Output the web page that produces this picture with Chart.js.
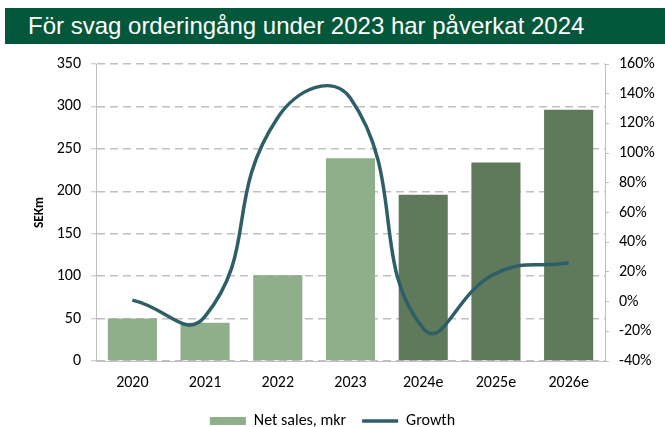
<!DOCTYPE html>
<html>
<head>
<meta charset="utf-8">
<script src="https://cdn.jsdelivr.net/npm/chart.js@4"></script>
<style>
  html, body { margin: 0; padding: 0; background: #fff; }
  #wrap { position: relative; width: 665px; height: 427px; }
  #title {
    position: absolute; left: 5px; top: 8px; width: 660px; height: 36px;
    background: #03573a; color: #fff;
    font-family: 'Liberation Sans Narrow', 'Liberation Sans', Arial, sans-serif;
    font-size: 24px; line-height: 36px; padding-left: 23px; box-sizing: border-box;
  }
  canvas { position: absolute; left: 0; top: 0; }
</style>
</head>
<body>
<div id="wrap">
  <canvas id="chart" width="665" height="427"></canvas>
  <div id="title">För svag orderingång under 2023 har påverkat 2024</div>
</div>
<script>
const years = ['2020', '2021', '2022', '2023', '2024e', '2025e', '2026e'];
const netSales = [50, 45, 101, 239, 196, 234, 296];
const growth = [1, -10, 124, 137, -18, 19, 26];
const barColors = ['#8fae8a', '#8fae8a', '#8fae8a', '#8fae8a', '#5e7a5a', '#5e7a5a', '#5e7a5a'];

const tickFont = { family: 'Carlito, Lato, sans-serif', size: 16 };
const gridGrey = '#c0c0c0';

const ctx = document.getElementById('chart').getContext('2d');
new Chart(ctx, {
  data: {
    labels: years,
    datasets: [
      {
        type: 'line',
        label: 'Growth',
        data: growth,
        yAxisID: 'y1',
        borderColor: '#2e5f69',
        backgroundColor: '#2e5f69',
        borderWidth: 3.5,
        pointRadius: 0,
        tension: 0.5,
        order: 0,
      },
      {
        type: 'bar',
        label: 'Net sales, mkr',
        data: netSales,
        yAxisID: 'y',
        backgroundColor: barColors,
        categoryPercentage: 1,
        barPercentage: 0.675,
        order: 1,
      },
    ],
  },
  options: {
    responsive: false,
    animation: false,
    layout: { padding: { top: 64, left: 0, right: 0, bottom: 0 } },
    plugins: {
      tooltip: { enabled: false },
      legend: {
        position: 'bottom',
        maxHeight: 30,
        labels: {
          font: tickFont,
          color: '#000',
          usePointStyle: true,
          pointStyleWidth: 36,
          boxHeight: 8,
          padding: 16,
          generateLabels: (chart) => [
            { text: 'Net sales, mkr', fillStyle: '#8fae8a', strokeStyle: '#8fae8a', lineWidth: 0, pointStyle: 'rect', datasetIndex: 1 },
            { text: 'Growth', fillStyle: '#2e5f69', strokeStyle: '#2e5f69', lineWidth: 3.5, pointStyle: 'line', datasetIndex: 0 },
          ],
        },
      },
    },
    scales: {
      x: {
        offset: true,
        grid: { display: false, drawTicks: false },
        border: { display: true, color: gridGrey, width: 1 },
        ticks: { font: tickFont, color: '#000', padding: 12 },
        afterFit: (scale) => { scale.height = 36; },
      },
      y: {
        position: 'left',
        min: 0,
        max: 350,
        ticks: { stepSize: 50, font: tickFont, color: '#000', padding: 10 },
        grid: { color: gridGrey, lineWidth: 1.5, tickLength: 5, tickBorderDash: [], tickWidth: 1 },
        border: { display: true, color: gridGrey, width: 1, dash: [8, 5] },
        title: {
          display: true,
          text: 'SEKm',
          font: { family: 'Carlito, Lato, sans-serif', size: 13.5, weight: 'bold' },
          color: '#000',
          padding: { top: 32, bottom: 0 },
        },
        afterFit: (scale) => { scale.width = 96; },
      },
      y1: {
        position: 'right',
        min: -40,
        max: 160,
        ticks: { stepSize: 20, font: tickFont, color: '#000', padding: 10, callback: (v) => v + '%' },
        grid: { drawOnChartArea: false, color: gridGrey, tickLength: 4 },
        border: { display: true, color: gridGrey, width: 1 },
        afterFit: (scale) => { scale.width = 60; },
      },
    },
  },
});
</script>
</body>
</html>
